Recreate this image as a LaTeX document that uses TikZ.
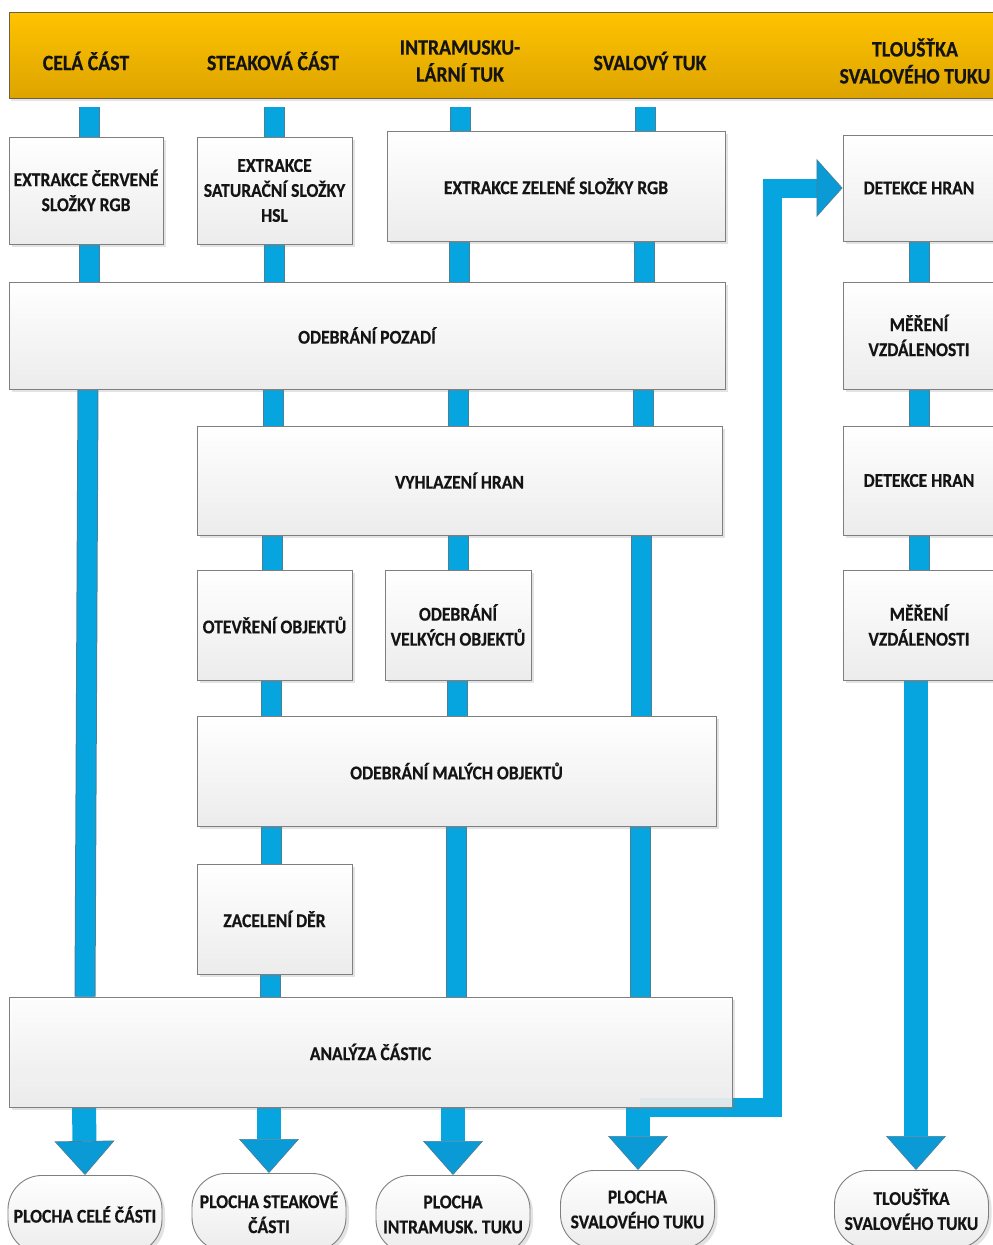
\documentclass[tikz,border=0pt]{standalone}
\usepackage{fontspec}
\setmainfont{Carlito}[FakeStretch=0.9, BoldFont={Carlito Bold}, BoldFeatures={FakeStretch=0.9, FakeBold=0.5}]
\usetikzlibrary{arrows.meta,shadows,calc}
\pgfdeclarelayer{back}
\pgfdeclarelayer{bg}
\pgfsetlayers{back,bg,main}
\definecolor{barBlue}{HTML}{06A5E0}
\definecolor{barEdge}{HTML}{4A7F98}
\definecolor{headBlue}{HTML}{0A9BD6}
\definecolor{boxEdge}{HTML}{7F7F7F}
\definecolor{hdrTop}{HTML}{FFC300}
\definecolor{hdrBot}{HTML}{DDA400}
\definecolor{hdrEdge}{HTML}{6E6040}
\definecolor{txt}{HTML}{141414}
\newcommand\boxfont{\fontsize{19.5}{25}\selectfont\bfseries}
\newcommand\hdrfont{\fontsize{22}{27}\selectfont\bfseries}
\begin{document}
\begin{tikzpicture}[x=1pt,y=-1pt,
  box/.style={draw=boxEdge, line width=0.9pt, top color=white, bottom color=gray!15,
    inner sep=0pt, align=center, font=\boxfont, text=txt,
    drop shadow={shadow xshift=3pt, shadow yshift=-3pt, opacity=0.22, fill=gray}},
  term/.style={box, rounded corners=34pt, anchor=north, minimum width=154pt, minimum height=78pt},
  hdrtext/.style={font=\hdrfont, text=txt, align=center, inner sep=0pt},
  bar/.style={draw=barBlue, line width=19pt,
    preaction={draw=barEdge, line width=21pt}},
  bigarrow/.style={draw=barBlue, line width=24pt,
    -{Triangle[length=34pt, width=60pt, line width=0.7pt, color=barEdge, fill=headBlue]}},
  lbar/.style={draw=barBlue, line width=19pt, line join=miter,
    -{Triangle[length=26pt, width=58pt, line width=0.7pt, color=barEdge, fill=headBlue]}},
]
\useasboundingbox (0,0) rectangle (993,1245);
\begin{pgfonlayer}{back}
\fill[white] (0,0) rectangle (993,1245);
\end{pgfonlayer}

% header
\node[draw=hdrEdge, line width=0.9pt, top color=hdrTop, bottom color=hdrBot,
  minimum width=991pt, minimum height=86pt, inner sep=0pt,
  drop shadow={shadow xshift=2pt, shadow yshift=-3pt, opacity=0.2, fill=gray}] (hdr) at (504.5,55) {};
\node[hdrtext] (h1) at (86,61) {CELÁ ČÁST};
\node[hdrtext] (h2) at (273,61) {STEAKOVÁ ČÁST};
\node[hdrtext] (h3) at (460,61) {INTRAMUSKU-\\LÁRNÍ TUK};
\node[hdrtext] (h4) at (650,61) {SVALOVÝ TUK};
\node[hdrtext] (h5) at (915,61) {TLOUŠŤKA\\SVALOVÉHO TUKU};

% boxes
\node[box, minimum width=154pt, minimum height=107pt] (b1) at (86,190.5) {EXTRAKCE ČERVENÉ\\SLOŽKY RGB};
\node[box, minimum width=155pt, minimum height=107pt] (b2) at (274.5,190.5) {EXTRAKCE\\SATURAČNÍ SLOŽKY\\HSL};
\node[box, minimum width=338pt, minimum height=110pt] (b3) at (556,186) {EXTRAKCE ZELENÉ SLOŽKY RGB};
\node[box, minimum width=152pt, minimum height=106pt] (d1) at (919,188) {DETEKCE HRAN};
\node[box, minimum width=716pt, minimum height=107pt] (poz) at (367,335.5) {ODEBRÁNÍ POZADÍ};
\node[box, minimum width=152pt, minimum height=107pt] (m1) at (919,335.5) {MĚŘENÍ\\VZDÁLENOSTI};
\node[box, minimum width=525pt, minimum height=109pt] (vyh) at (459.5,480.5) {VYHLAZENÍ HRAN};
\node[box, minimum width=152pt, minimum height=109pt] (d2) at (919,480.5) {DETEKCE HRAN};
\node[box, minimum width=155pt, minimum height=110pt] (otv) at (274.5,625) {OTEVŘENÍ OBJEKTŮ};
\node[box, minimum width=146pt, minimum height=110pt] (vel) at (458,625) {ODEBRÁNÍ\\VELKÝCH OBJEKTŮ};
\node[box, minimum width=152pt, minimum height=110pt] (m2) at (919,625) {MĚŘENÍ\\VZDÁLENOSTI};
\node[box, minimum width=519pt, minimum height=110pt] (mal) at (456.5,771) {ODEBRÁNÍ MALÝCH OBJEKTŮ};
\node[box, minimum width=155pt, minimum height=110pt] (zac) at (274.5,919) {ZACELENÍ DĚR};
\node[box, minimum width=723pt, minimum height=110pt, fill opacity=0.93, text opacity=1] (ana) at (370.5,1052) {ANALÝZA ČÁSTIC};

% terminals
\node[term] (t1) at (85,1175) {PLOCHA CELÉ ČÁSTI};
\node[term] (t2) at (269,1173) {PLOCHA STEAKOVÉ\\ČÁSTI};
\node[term] (t3) at (453,1175) {PLOCHA\\INTRAMUSK. TUKU};
\node[term] (t4) at (637.5,1170) {PLOCHA\\SVALOVÉHO TUKU};
\node[term] (t5) at (911.5,1170) {TLOUŠŤKA\\SVALOVÉHO TUKU};

\begin{pgfonlayer}{bg}
% header to first boxes
\draw[bar, shorten <=9pt] (hdr.south -| 89,0) -- (b1.north -| 89,0);
\draw[bar, shorten <=9pt] (hdr.south -| 274,0) -- (b2.north -| 274,0);
\draw[bar, shorten <=9pt] (hdr.south -| 460,0) -- (b3.north -| 460,0);
\draw[bar, shorten <=9pt] (hdr.south -| 645,0) -- (b3.north -| 645,0);
% row 1 -> row 2
\draw[bar] (b1.south -| 89,0) -- (poz.north -| 89,0);
\draw[bar] (b2.south -| 274,0) -- (poz.north -| 274,0);
\draw[bar] (b3.south -| 459,0) -- (poz.north -| 459,0);
\draw[bar] (b3.south -| 644,0) -- (poz.north -| 644,0);
\draw[bar] (d1.south -| 919,0) -- (m1.north -| 919,0);
% row 2 -> row 3
\draw[bar] (poz.south -| 88,0) -- (ana.north -| 85,0);
\draw[bar] (poz.south -| 273,0) -- (vyh.north -| 273,0);
\draw[bar] (poz.south -| 458,0) -- (vyh.north -| 458,0);
\draw[bar] (poz.south -| 643,0) -- (vyh.north -| 643,0);
\draw[bar] (m1.south -| 919,0) -- (d2.north -| 919,0);
% row 3 -> row 4
\draw[bar] (vyh.south -| 272,0) -- (otv.north -| 272,0);
\draw[bar] (vyh.south -| 458,0) -- (vel.north -| 458,0);
\draw[bar] (vyh.south -| 641,0) -- (mal.north -| 641,0);
\draw[bar] (d2.south -| 919,0) -- (m2.north -| 919,0);
% row 4 -> row 5
\draw[bar] (otv.south -| 271,0) -- (mal.north -| 271,0);
\draw[bar] (vel.south -| 457,0) -- (mal.north -| 457,0);
% row 5 -> below
\draw[bar] (mal.south -| 271,0) -- (zac.north -| 271,0);
\draw[bar] (mal.south -| 456,0) -- (ana.north -| 456,0);
\draw[bar] (mal.south -| 640,0) -- (ana.north -| 640,0);
\draw[bar] (zac.south -| 270,0) -- (ana.north -| 270,0);
% L connector to edge detection
\coordinate (lcorner) at (772,188);
\draw[lbar] (ana.south -| 640,0) -| (lcorner) -- (d1.west);
% output arrows
\draw[bigarrow] (ana.south -| 84,0) -- (t1.north);
\draw[bigarrow] (ana.south -| 269,0) -- (t2.north);
\draw[bigarrow] (ana.south -| 453,0) -- (t3.north);
\draw[bigarrow] (ana.south -| 638,0) -- (t4.north -| 638,0);
\draw[bigarrow] (m2.south -| 916,0) -- (t5.north -| 916,0);
\end{pgfonlayer}
\end{tikzpicture}
\end{document}
